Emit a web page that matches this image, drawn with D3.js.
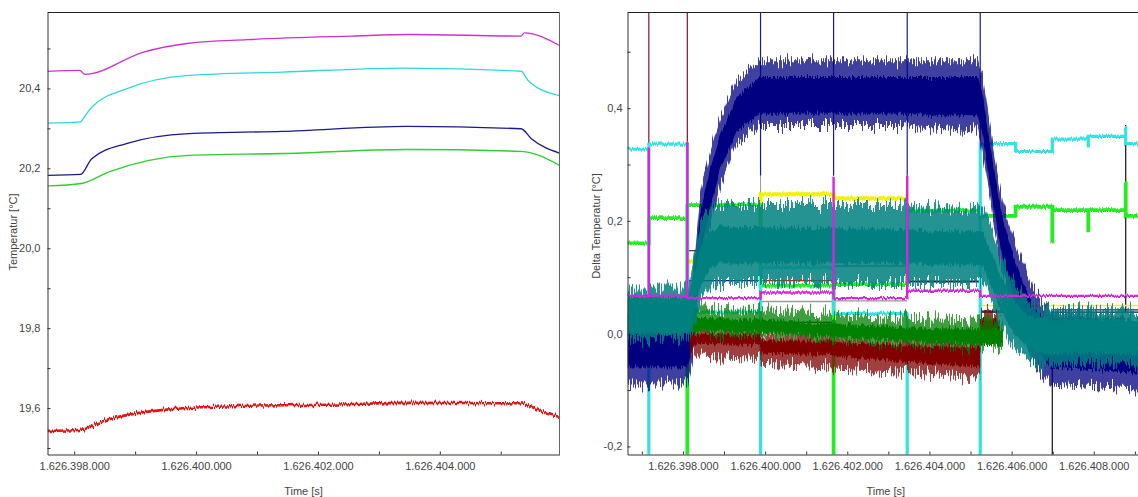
<!DOCTYPE html>
<html><head><meta charset="utf-8">
<script src="https://cdn.jsdelivr.net/npm/d3@7"></script>
<style>
body{margin:0;background:#fff;}
svg{display:block;font-family:"Liberation Sans",Arial,sans-serif;}
</style>
</head><body>
<svg id="c" width="1138" height="497"></svg>
<script>
// ---------------- DATA ----------------
// Left panel (temperatures)
const leftTimeDomain = [1626397562, 1626405964];
const leftValueDomain = [19.48375, 20.59];
const leftXTicks = [1626398000,1626399000,1626400000,1626401000,1626402000,1626403000,1626404000,1626405000];
const leftYTicksMajor = [19.6, 19.8, 20.0, 20.2, 20.4];
const leftYTicksMinor = [19.5, 19.7, 19.9, 20.1, 20.3, 20.5];
const leftMagenta = [[1626397562,20.4425],[1626398090,20.445],[1626398175,20.435],[1626399140,20.491],[1626399879,20.513],[1626400845,20.522],[1626402549,20.531],[1626403515,20.535],[1626405333,20.531],[1626405389,20.539],[1626405964,20.5075]];
const leftCyan = [[1626397562,20.313],[1626398106,20.316],[1626398146,20.324],[1626398288,20.353],[1626398857,20.399],[1626399879,20.4325],[1626401412,20.441],[1626403458,20.451],[1626405333,20.443],[1626405448,20.42],[1626405964,20.382]];
const leftNavy = [[1626397562,20.1825],[1626398106,20.185],[1626398288,20.224],[1626398857,20.262],[1626399879,20.287],[1626401412,20.2925],[1626403458,20.305],[1626405333,20.299],[1626405503,20.274],[1626405964,20.238]];
const leftGreen = [[1626397562,20.156],[1626398118,20.162],[1626398572,20.191],[1626399879,20.2325],[1626401412,20.237],[1626403458,20.247],[1626405333,20.2425],[1626405964,20.2075]];
const leftRed = [[1626397562,19.543],[1626398090,19.545],[1626398526,19.57],[1626399071,19.588],[1626399615,19.5975],[1626400706,19.605],[1626402341,19.609],[1626403432,19.613],[1626405067,19.612],[1626405300,19.612],[1626405775,19.585],[1626405964,19.578]];

// Right panel
const rightTimeDomain = [1626396651, 1626409222];
const rightValueDomain = [-0.2143, 0.5695];
const rightXTicks = [1626397000,1626398000,1626399000,1626400000,1626401000,1626402000,1626403000,1626404000,1626405000,1626406000,1626407000,1626408000,1626409000];
const rightYTicksMajor = [-0.2, 0.0, 0.2, 0.4];
const rightYTicksMinor = [-0.1, 0.1, 0.3, 0.5];
// switching instants
const B1=1626397170, B2=1626398107, B3=1626399889, B4=1626401667, B5=1626403459,
      B6=1626405236, B7=1626406098, B8=1626406990, B9=1626408777, BX=1626407866;
const T0=1626396651, TE=1626409222;

// noisy signals: [time, dense low, dense high, spike low, spike high]
const navyBand = [[T0,-0.06,0.0,-0.09,0.03],[1626398119,-0.06,0.0,-0.09,0.03],[1626398241,-0.02,0.07,-0.05,0.1],[1626398412,0.14,0.21,0.11,0.24],[1626398656,0.22,0.29,0.19,0.32],[1626398899,0.29,0.35,0.26,0.38],[1626399312,0.36,0.42,0.34,0.45],[1626399872,0.39,0.455,0.37,0.485],[1626400846,0.39,0.455,0.37,0.485],[1626403281,0.39,0.455,0.37,0.485],[1626405180,0.385,0.455,0.36,0.485],[1626405302,0.35,0.42,0.31,0.45],[1626405546,0.23,0.3,0.2,0.33],[1626405789,0.13,0.2,0.1,0.23],[1626406033,0.07,0.14,0.04,0.17],[1626406276,0.02,0.09,-0.01,0.12],[1626406520,-0.02,0.05,-0.05,0.08],[1626406934,-0.06,0.01,-0.09,0.04],[TE,-0.07,-0.02,-0.1,0.02]];
const tealBand = [[T0,0.0,0.065,-0.01,0.08],[1626398119,0.0,0.065,-0.01,0.08],[1626398241,0.03,0.095,0.0,0.12],[1626398412,0.08,0.15,0.05,0.19],[1626398656,0.115,0.18,0.08,0.22],[1626398899,0.125,0.19,0.09,0.23],[1626403281,0.125,0.185,0.09,0.23],[1626405302,0.12,0.18,0.09,0.22],[1626405522,0.08,0.14,0.05,0.18],[1626405716,0.045,0.105,0.02,0.14],[1626405959,0.01,0.07,-0.02,0.1],[1626406325,-0.02,0.035,-0.045,0.06],[1626406690,-0.035,0.025,-0.055,0.045],[TE,-0.035,0.025,-0.055,0.04]];
const greenBand = [[1626398168,0.005,0.028,0.0,0.045],[1626399872,0.002,0.025,-0.003,0.042],[1626401667,-0.006,0.018,-0.01,0.035],[1626403459,-0.013,0.011,-0.018,0.028],[1626405236,-0.02,0.008,-0.025,0.025],[1626405789,-0.02,0.008,-0.025,0.02]];
const maroonBand = [[1626398168,-0.018,0.0,-0.04,0.005],[1626399889,-0.02,-0.002,-0.045,0.005],[1626399890,-0.035,-0.012,-0.055,-0.005],[1626401667,-0.038,-0.012,-0.06,-0.005],[1626401668,-0.04,-0.015,-0.062,-0.008],[1626403459,-0.05,-0.02,-0.068,-0.012],[1626405236,-0.06,-0.025,-0.078,-0.015]];
const maroonTail = [[1626405237,0.008,0.025,0.0,0.035],[1626405716,0.008,0.025,0.0,0.035]];

// step signals: [time, value] held until next time (null = no data)
const cyanSteps = [[T0,0.327],[B1,-0.3],[B1,0.336],[B2,0.038],[B3,-0.3],[B3,0.117],[B4,0.036],[B5,-0.3],[B6,0.337],[B7,0.323],[B8,0.345],[BX,0.33],[BX,0.35],[B9,0.368],[B9,0.337],[TE,0.337]];
const limeSteps = [[T0,0.16],[B1,0.205],[B2,-0.3],[B2,0.228],[B3,0.085],[B4,-0.3],[B4,0.088],[B5,0.218],[B6,0.209],[B7,0.225],[B8,0.16],[B8,0.219],[BX,0.18],[BX,0.219],[B9,0.27],[B9,0.209],[TE,0.209]];
const yellowSteps = [[B2,0.128],[B3,0.247],[B4,0.24],[B5,0.24],[B5,null]];
const yellowLate = [[B6,0.05],[TE,0.05]];
const magentaSteps = [[T0,0.067],[B1,0.33],[B1,0.067],[B2,0.34],[B2,0.063],[B3,0.073],[B4,0.28],[B4,0.063],[B5,0.28],[B5,0.076],[B6,0.067],[TE,0.067]];
const blackSteps = [[B2,0.147],[B3,0.147],[B3,0.02],[B4,0.12],[B5,0.093],[B6,0.024],[B6,0.038],[B7,0.038],[B7,null],[B8,-0.3],[B8,0.038],[B9,0.37],[B9,0.038],[TE,0.038]];
const navySteps = [[B2,0.094],[B3,0.094],[B3,null],[B5,0.092],[B6,0.092],[B6,0.04],[B7,0.04],[B7,null],[B8,0.042],[TE,0.042]];
const redSteps = [[B3,0.094],[B4,0.094],[B4,null],[B8,0.026],[B9,0.026],[B9,null]];
const graySteps = [[B3,0.057],[B4,0.058],[B5,0.058],[B5,null]];
// short vertical glitches at switching instants: [time, from, to]
const maroonSpikes = [[B1,0.33,0.7],[B2,0.147,0.7]];
const navySpikes = [[B3,0.28,0.7],[B4,0.28,0.7],[B5,0.28,0.7],[B6,0.28,0.7]];
const graySpikes = [[B3,0.13,0.28],[B6,0.1,0.28]];

// ---------------- DRAW ----------------
const svg = d3.select('#c');
const defs = svg.append('defs');
// jitter filters: render noisy signals with a column-wise vertical jitter texture
function jitter(id, scale, fx, seed){
  const f = defs.append('filter').attr('id', id).attr('filterUnits','userSpaceOnUse')
    .attr('x',0).attr('y',0).attr('width',1138).attr('height',497)
    .attr('color-interpolation-filters','sRGB');
  f.append('feTurbulence').attr('type','fractalNoise').attr('baseFrequency', `${fx} 0.002`)
    .attr('numOctaves',2).attr('seed',seed).attr('result','t');
  f.append('feColorMatrix').attr('in','t').attr('type','matrix')
    .attr('values','0 0 0 0 0.5  0 1 0 0 0  0 0 0 0 0  0 0 0 0 1').attr('result','m');
  f.append('feDisplacementMap').attr('in','SourceGraphic').attr('in2','m').attr('scale',scale)
    .attr('xChannelSelector','R').attr('yChannelSelector','G');
}
jitter('jBig', 30, 0.8, 3);
jitter('jSmall', 10, 0.8, 7);
jitter('jTiny', 7, 0.9, 11);
jitter('jLine', 4, 0.9, 5);

const loc = d3.formatLocale({decimal:",", thousands:".", grouping:[3], currency:["",""], minus:"-"});
const fTime = loc.format(",d");
const fVal = loc.format(".1f");
const AX = '#333', TXT = '#444';

function panel(cfg){
  const g = svg.append('g');
  const x = d3.scaleLinear().domain(cfg.xd).range([cfg.x0, cfg.x1]);
  const y = d3.scaleLinear().domain(cfg.yd).range([cfg.y1, cfg.y0]);
  const id = 'clip'+cfg.name;
  defs.append('clipPath').attr('id', id).append('rect')
    .attr('x', cfg.x0).attr('y', cfg.y0).attr('width', cfg.x1-cfg.x0).attr('height', cfg.y1-cfg.y0);
  const plot = g.append('g').attr('clip-path', `url(#${id})`);
  return {g, x, y, plot};
}

function axes(p, cfg){
  const {g, x, y} = p;
  g.append('line').attr('x1',cfg.x0).attr('x2',cfg.x1).attr('y1',cfg.y0).attr('y2',cfg.y0).attr('stroke','#222');
  if (cfg.rightBorder) g.append('line').attr('x1',cfg.x1).attr('x2',cfg.x1).attr('y1',cfg.y0).attr('y2',cfg.y1).attr('stroke','#666');
  const xa = d3.axisBottom(x).tickValues(cfg.xt).tickSizeInner(-3).tickSizeOuter(0).tickPadding(8)
    .tickFormat(d => (Math.round(d/1000) % 2 === 0) ? fTime(d) : '');
  const xg = g.append('g').attr('transform', `translate(0,${cfg.y1})`).call(xa);
  const major = cfg.ym.map(v => +v.toFixed(1));
  const ya = d3.axisLeft(y).tickValues(cfg.ym.concat(cfg.yn)).tickSizeInner(-3).tickSizeOuter(0).tickPadding(cfg.yPad)
    .tickFormat(d => major.includes(+d.toFixed(1)) ? fVal(d) : '');
  const yg = g.append('g').attr('transform', `translate(${cfg.x0},0)`).call(ya);
  [xg, yg].forEach(a => {
    a.select('.domain').attr('stroke', AX);
    a.selectAll('.tick line').attr('stroke', AX);
    a.selectAll('.tick text').attr('fill', TXT).style('font-size','11px').style('font-family','"Liberation Sans",Arial,sans-serif');
  });
  g.append('text').attr('x', (cfg.x0+cfg.x1)/2).attr('y', 497-2).attr('text-anchor','middle')
    .attr('fill', TXT).style('font-size','11px').text('Time [s]');
  g.append('text').attr('transform', `translate(${cfg.labelX},${cfg.labelY}) rotate(-90)`)
    .attr('text-anchor','middle').attr('dy','0.35em').attr('fill', TXT).style('font-size','11px').text(cfg.label);
}

// ---- Left panel
const L = {name:'L', x0:47.5, x1:559.5, y0:12.5, y1:454.5, xd:leftTimeDomain, yd:leftValueDomain,
  xt:leftXTicks, ym:leftYTicksMajor, yn:leftYTicksMinor, yPad:7, rightBorder:true,
  label:'Temperatur [°C]', labelX:13, labelY:232};
const pl = panel(L);
const lineL = d3.line().x(d => pl.x(d[0])).y(d => pl.y(d[1])).curve(d3.curveMonotoneX);
[[leftMagenta,'#cc33cc',1.3,null],[leftCyan,'#33d6d6',1.3,null],[leftNavy,'#1a1a8c',1.3,null],[leftGreen,'#33cc33',1.4,null],[leftRed,'#e81010',2.6,'jTiny']]
 .forEach(([d,c,w,f]) => {
   const p = pl.plot.append('path').datum(d).attr('d', lineL).attr('fill','none').attr('stroke',c).attr('stroke-width',w);
   if (f) p.attr('filter', `url(#${f})`);
 });
axes(pl, L);

// ---- Right panel
const R = {name:'R', x0:627.5, x1:1144, y0:12.5, y1:454.5, xd:rightTimeDomain, yd:rightValueDomain,
  xt:rightXTicks, ym:rightYTicksMajor, yn:rightYTicksMinor, yPad:5, rightBorder:false,
  label:'Delta Temperatur [°C]', labelX:596, labelY:226};
const pr = panel(R);
const stepLine = d3.line().defined(d => d[1] !== null).x(d => pr.x(d[0])).y(d => pr.y(d[1])).curve(d3.curveStepAfter);
function steps(d, c, w, f){
  const p = pr.plot.append('path').datum(d).attr('d', stepLine).attr('fill','none').attr('stroke',c).attr('stroke-width',w);
  if (f) p.attr('filter', `url(#${f})`);
}
function spikes(d, c, w){ pr.plot.selectAll(null).data(d).enter().append('line')
  .attr('x1', s => pr.x(s[0])).attr('x2', s => pr.x(s[0])).attr('y1', s => pr.y(s[1])).attr('y2', s => pr.y(s[2]))
  .attr('stroke', c).attr('stroke-width', w); }
function band(d, c, outerOpacity){
  const outer = d3.area().x(b => pr.x(b[0])).y0(b => pr.y(b[3])).y1(b => pr.y(b[4]));
  const dense = d3.area().x(b => pr.x(b[0])).y0(b => pr.y(b[1])).y1(b => pr.y(b[2]));
  pr.plot.append('path').datum(d).attr('d', outer).attr('fill', c).attr('opacity', outerOpacity).attr('filter','url(#jBig)');
  pr.plot.append('path').datum(d).attr('d', dense).attr('fill', c).attr('filter','url(#jSmall)');
}
spikes(maroonSpikes, '#8a1030', 1.2);
spikes(navySpikes, '#1a1a99', 1.2);
spikes(graySpikes, '#999999', 1);
steps(graySteps, '#9a9a9a', 1.3);
steps(redSteps, '#ee1111', 1.3);
steps(navySteps, '#1a1a8c', 1.3);
steps(blackSteps, '#111111', 1.2);
steps(yellowSteps, '#f2f200', 4, 'jLine');
steps(yellowLate, '#eeee30', 1.6);
steps(limeSteps, '#22ee22', 3.8, 'jLine');
steps(cyanSteps, '#33e2e2', 3.2, 'jLine');
band(navyBand, '#000080', 0.75);
band(maroonBand, '#800000', 0.75);
band(maroonTail, '#800000', 0.75);
band(greenBand, '#008000', 0.75);
band(tealBand, '#008080', 0.85);
steps(magentaSteps, '#dd22dd', 2.4, 'jLine');
axes(pr, R);
</script>
</body></html>
